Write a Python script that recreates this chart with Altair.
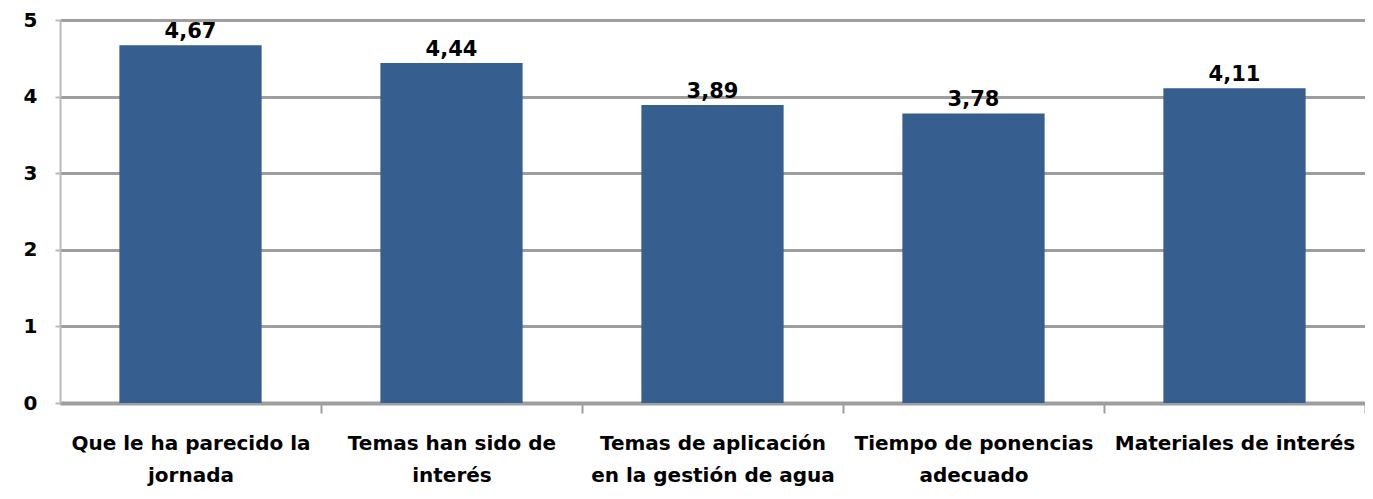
import altair as alt
import pandas as pd

categories = [
    "Que le ha parecido la\njornada",
    "Temas han sido de\ninterés",
    "Temas de aplicación\nen la gestión de agua",
    "Tiempo de ponencias\nadecuado",
    "Materiales de interés",
]
values = [4.67, 4.44, 3.89, 3.78, 4.11]
y_ticks = [0, 1, 2, 3, 4, 5]

df = pd.DataFrame({"cat": categories, "val": values})
df["label"] = [f"{v:.2f}".replace(".", ",") for v in values]

FONT = "DejaVu Sans"
BAR = "#365E8F"
GRID = "#9E9E9E"
STEP = 1305 / 5

x = alt.X(
    "cat:N",
    sort=categories,
    title=None,
    scale=alt.Scale(paddingInner=0.455, paddingOuter=0.2275),
    axis=alt.Axis(
        labelAngle=0,
        labelExpr="split(datum.label, '\\n')",
        labelFont=FONT,
        labelFontSize=20,
        labelFontWeight="bold",
        labelColor="#000000",
        labelPadding=20,
        labelLineHeight=32,
        labelLimit=300,
        tickOffset=STEP / 2,
        labelOffset=-STEP / 2,
        tickSize=10,
        tickWidth=2,
        tickColor=GRID,
        domainColor=GRID,
        domainWidth=4,
        grid=False,
    ),
)
y = alt.Y(
    "val:Q",
    title=None,
    scale=alt.Scale(domain=[0, 5], nice=False),
    axis=alt.Axis(
        values=y_ticks,
        format="d",
        labelFont=FONT,
        labelFontSize=20,
        labelFontWeight="bold",
        labelColor="#000000",
        labelPadding=18,
        tickSize=5,
        tickWidth=2,
        tickColor="#BBBBBB",
        domainColor="#BBBBBB",
        domainWidth=2,
        grid=True,
        gridColor=GRID,
        gridWidth=3,
    ),
)

bars = alt.Chart(df).mark_bar(color=BAR).encode(x=x, y=y)
text = alt.Chart(df).mark_text(
    dy=-3, baseline="bottom", font=FONT, fontSize=21, fontWeight="bold", color="#000000"
).encode(x=alt.X("cat:N", sort=categories), y="val:Q", text="label:N")

chart = (
    alt.layer(bars, text)
    .properties(
        width=1305,
        height=383,
        autosize=alt.AutoSizeParams(type="none"),
        padding={"left": 52, "top": 12, "right": 0, "bottom": 88},
    )
    .configure_view(stroke=None)
    .configure(background="#ffffff")
)

chart.save("out.html", embed_options={"renderer": "svg", "actions": False})
